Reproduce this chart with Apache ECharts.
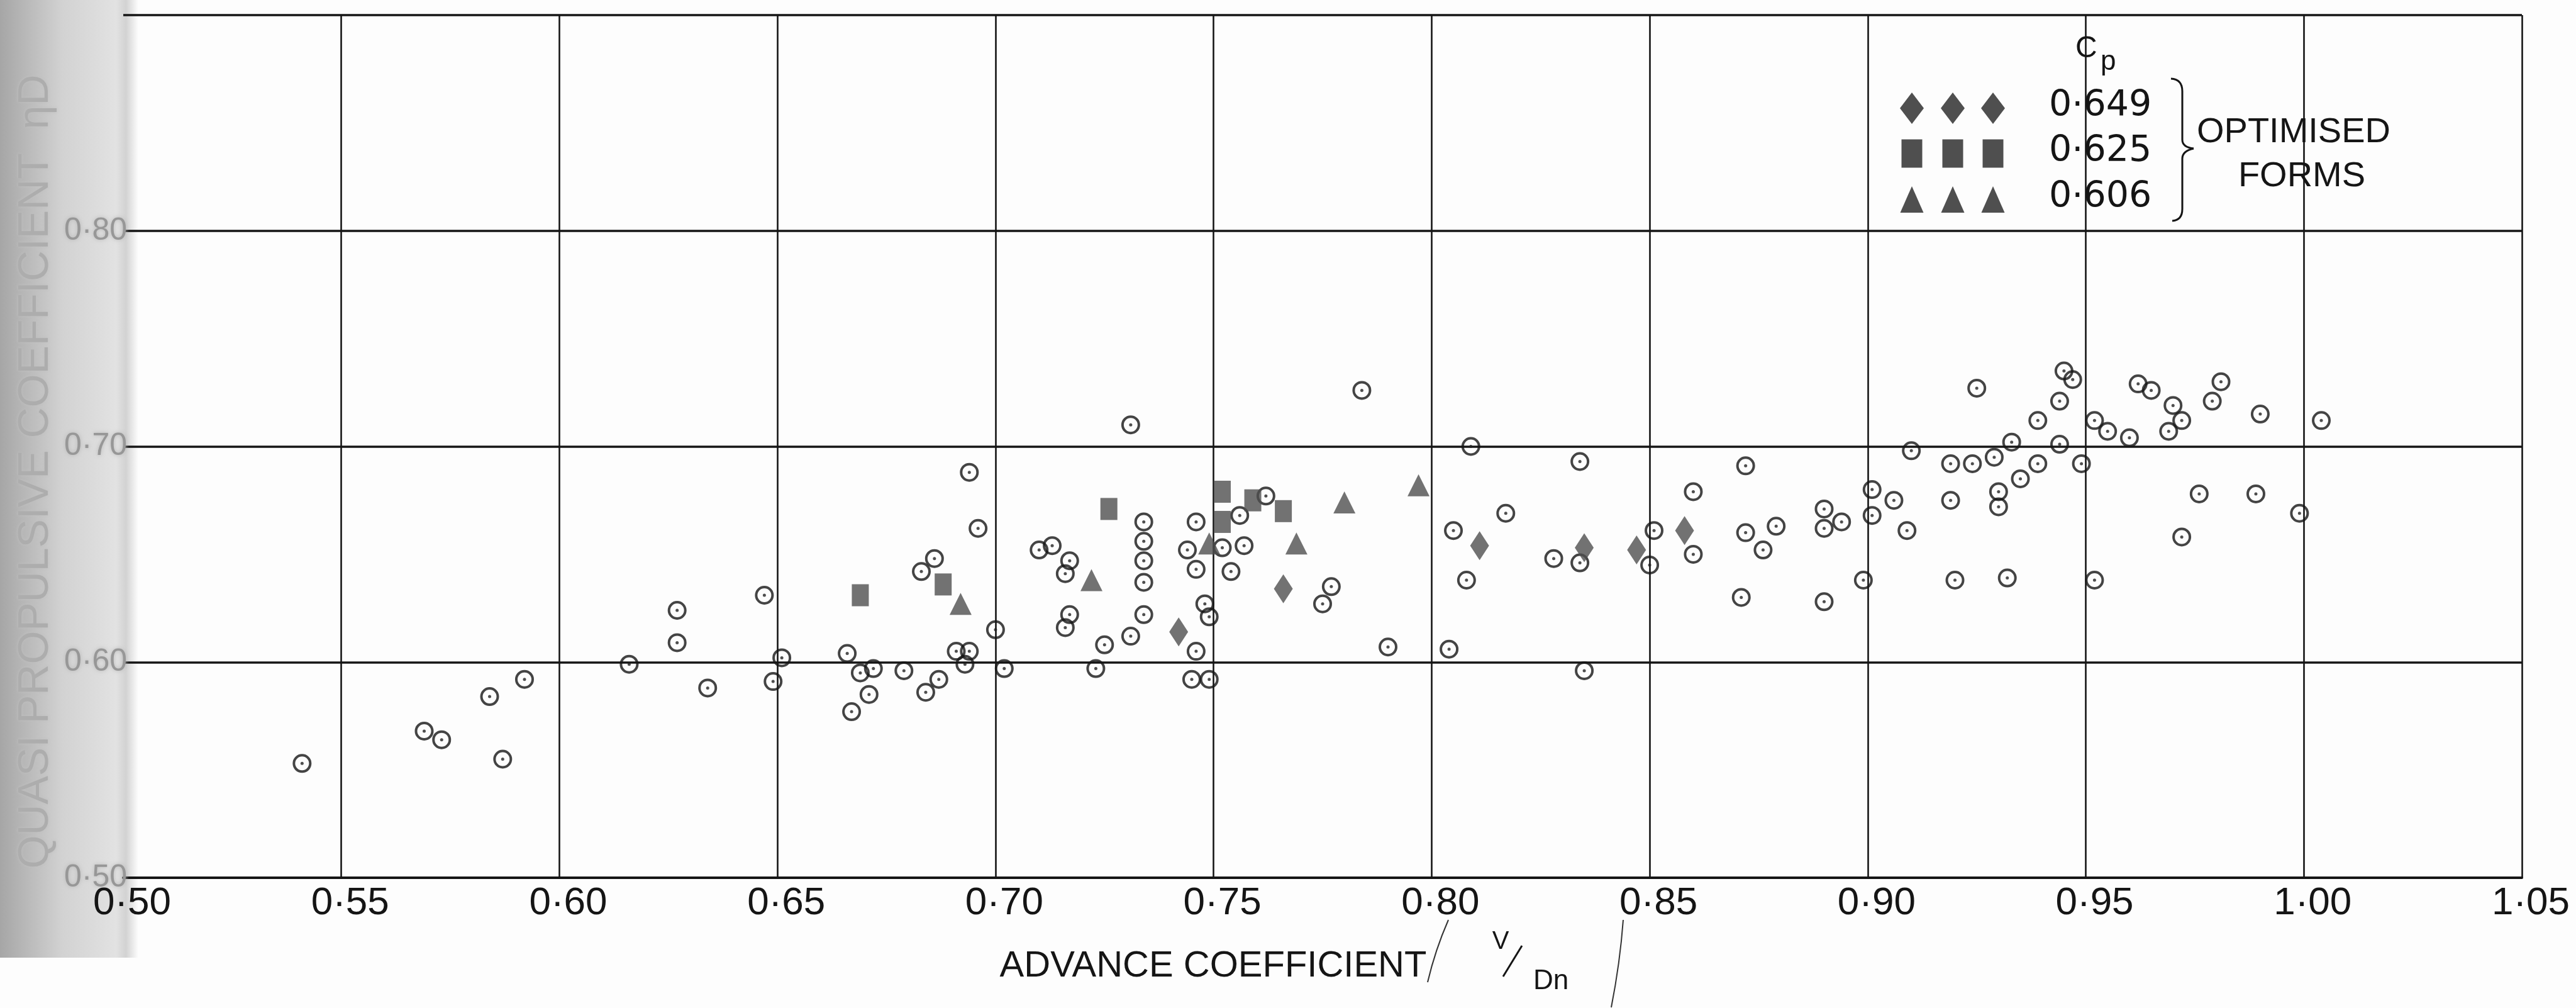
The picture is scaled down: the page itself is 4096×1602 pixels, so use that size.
<!DOCTYPE html>
<html><head><meta charset="utf-8">
<script src="https://cdn.jsdelivr.net/npm/echarts/dist/echarts.min.js"></script>
<style>html,body{margin:0;padding:0;background:#fff}#c{width:4096px;height:1602px}</style>
</head><body><div id="c"></div><script>
// ---- data (advance coefficient V/Dn, quasi propulsive coefficient) ----
const circles = [
 [0.541,0.553],[0.569,0.568],[0.573,0.564],[0.584,0.584],[0.592,0.592],[0.587,0.555],[0.616,0.599],
 [0.627,0.624],[0.627,0.609],[0.634,0.588],[0.647,0.631],[0.651,0.602],[0.649,0.591],[0.666,0.604],
 [0.669,0.595],[0.672,0.597],[0.671,0.585],[0.667,0.577],
 [0.731,0.710],[0.784,0.726],[0.809,0.700],[0.694,0.688],[0.696,0.662],[0.686,0.648],[0.683,0.642],
 [0.700,0.615],[0.691,0.605],[0.694,0.605],[0.693,0.599],[0.679,0.596],[0.687,0.592],[0.684,0.586],
 [0.702,0.597],[0.710,0.652],[0.713,0.654],[0.717,0.647],[0.716,0.641],[0.717,0.622],[0.716,0.616],
 [0.723,0.597],[0.725,0.608],[0.731,0.612],[0.734,0.665],[0.734,0.656],[0.734,0.647],[0.734,0.637],
 [0.734,0.622],[0.746,0.665],[0.744,0.652],[0.746,0.643],[0.748,0.627],[0.749,0.621],[0.746,0.605],
 [0.745,0.592],[0.749,0.592],[0.752,0.653],[0.756,0.668],[0.757,0.654],[0.762,0.677],[0.754,0.642],
 [0.777,0.635],[0.775,0.627],[0.790,0.607],[0.804,0.606],[0.805,0.661],[0.808,0.638],
 [0.834,0.693],[0.817,0.669],[0.828,0.648],[0.834,0.646],[0.835,0.596],[0.851,0.661],[0.850,0.645],
 [0.860,0.679],[0.860,0.650],[0.872,0.691],[0.872,0.660],[0.876,0.652],[0.871,0.630],[0.879,0.663],
 [0.890,0.671],[0.890,0.662],[0.894,0.665],[0.890,0.628],[0.899,0.638],[0.901,0.680],[0.901,0.668],
 [0.906,0.675],[0.909,0.661],[0.910,0.698],[0.925,0.727],[0.919,0.692],[0.924,0.692],[0.929,0.695],
 [0.933,0.702],[0.939,0.712],[0.939,0.692],[0.935,0.685],[0.930,0.679],[0.930,0.672],[0.919,0.675],
 [0.920,0.638],[0.932,0.639],
 [0.945,0.735],[0.947,0.731],[0.944,0.721],[0.944,0.701],[0.949,0.692],[0.952,0.712],[0.955,0.707],
 [0.960,0.704],[0.962,0.729],[0.965,0.726],[0.970,0.719],[0.972,0.712],[0.969,0.707],[0.981,0.730],
 [0.979,0.721],[0.990,0.715],[1.004,0.712],[0.976,0.678],[0.989,0.678],[0.999,0.669],[0.972,0.658],
 [0.952,0.638]
];
const diamonds649 = [[0.742,0.614],[0.766,0.634],[0.811,0.654],[0.835,0.653],[0.847,0.652],[0.858,0.661]];
const squares625  = [[0.669,0.631],[0.688,0.636],[0.726,0.671],[0.752,0.679],[0.752,0.665],[0.759,0.675],[0.766,0.670]];
const triangles606 = [[0.692,0.627],[0.722,0.638],[0.749,0.655],[0.769,0.655],[0.780,0.674],[0.797,0.682]];
const xTickLabels = ['0·50','0·55','0·60','0·65','0·70','0·75','0·80','0·85','0·90','0·95','1·00','1·05'];
const yTickLabels = ['0·50','0·60','0·70','0·80','0·90'];
const legendLabels = ['0·649','0·625','0·606'];
const legendTitle = 'OPTIMISED';
const legendTitle2 = 'FORMS';

const FONT = "'Liberation Sans Narrow','Liberation Sans',Arial,sans-serif";
const FONT2 = "'Liberation Sans',Arial,sans-serif";
const LFONT = "'DejaVu Sans',sans-serif";
const INK = '#151515';
const FILL = '#4f4f4f';

const chart = echarts.init(document.getElementById('c'), null, {renderer:'canvas'});

const legendRows = [172, 244, 317];
const legendXs = [3040, 3105, 3169];
const g = [];
g.push({type:'rect', z:-100, silent:true, shape:{x:0,y:0,width:220,height:1522},
  style:{fill:{type:'linear',x:0,y:0,x2:1,y2:0,colorStops:[
    {offset:0,color:'#a6a6a6'},{offset:0.45,color:'#d2d2d2'},{offset:0.84,color:'#e2e2e2'},
    {offset:0.91,color:'#d2d2d2'},{offset:1,color:'#fdfdfd'}]}}});
legendXs.forEach(cx => {
  let cy = legendRows[0];
  g.push({type:'polygon', z:50, shape:{points:[[cx,cy-25],[cx+19,cy],[cx,cy+25],[cx-19,cy]]}, style:{fill:FILL}});
  cy = legendRows[1];
  g.push({type:'rect', z:50, shape:{x:cx-16.5,y:cy-22.5,width:33,height:45}, style:{fill:FILL}});
  cy = legendRows[2];
  g.push({type:'polygon', z:50, shape:{points:[[cx,cy-21],[cx+18.5,cy+21],[cx-18.5,cy+21]]}, style:{fill:FILL}});
});
legendLabels.forEach((t,i) => {
  g.push({type:'text', z:50, x:3258, y:legendRows[i]-3, style:{text:t, font:'57px '+LFONT, fill:INK, align:'left', verticalAlign:'middle'}});
});
g.push({type:'text', z:50, x:3300, y:78, style:{text:'C', font:'48px '+FONT2, fill:INK, verticalAlign:'middle', align:'left'}});
g.push({type:'text', z:50, x:3340, y:99, style:{text:'p', font:'44px '+FONT2, fill:INK, verticalAlign:'middle', align:'left'}});
const brace = [
  {x1:3452,y1:125,x2:3470,y2:145,cpx1:3470,cpy1:126},
  {x1:3470,y1:222,x2:3488,y2:236,cpx1:3470,cpy1:234},
  {x1:3488,y1:236,x2:3470,y2:252,cpx1:3470,cpy1:240},
  {x1:3470,y1:332,x2:3454,y2:351,cpx1:3470,cpy1:350}
];
brace.forEach(s => g.push({type:'bezierCurve', z:50, shape:s, style:{stroke:INK, lineWidth:3, fill:null}}));
g.push({type:'line', z:50, shape:{x1:3470,y1:145,x2:3470,y2:222}, style:{stroke:INK, lineWidth:3}});
g.push({type:'line', z:50, shape:{x1:3470,y1:252,x2:3470,y2:332}, style:{stroke:INK, lineWidth:3}});
g.push({type:'text', z:50, x:3647, y:211, style:{text:legendTitle, font:'56px '+FONT2, fill:INK, align:'center', verticalAlign:'middle'}});
g.push({type:'text', z:50, x:3660, y:281, style:{text:legendTitle2, font:'56px '+FONT2, fill:INK, align:'center', verticalAlign:'middle'}});
// V/Dn symbol beside the axis title
g.push({type:'text', z:50, x:2386, y:1497, style:{text:'V', font:'40px '+FONT2, fill:INK, align:'center', verticalAlign:'middle'}});
g.push({type:'line', z:50, shape:{x1:2420,y1:1503,x2:2390,y2:1552}, style:{stroke:INK, lineWidth:3}});
g.push({type:'text', z:50, x:2466, y:1560, style:{text:'Dn', font:'44px '+FONT2, fill:INK, align:'center', verticalAlign:'middle'}});
g.push({type:'bezierCurve', z:50, shape:{x1:2303,y1:1462,x2:2270,y2:1561,cpx1:2282,cpy1:1510}, style:{stroke:'#333', lineWidth:2, fill:null}});
g.push({type:'bezierCurve', z:50, shape:{x1:2581,y1:1462,x2:2562,y2:1601,cpx1:2576,cpy1:1530}, style:{stroke:'#333', lineWidth:2, fill:null}});

const option = {
  backgroundColor:'#fdfdfd',
  animation:false,
  grid:{left:196, right:86, top:24, bottom:207, containLabel:false},
  xAxis:{
    type:'value', min:0.5, max:1.05, interval:0.05,
    name:'ADVANCE COEFFICIENT', nameLocation:'middle', nameGap:112,
    nameTextStyle:{fontFamily:FONT2, fontSize:58, color:INK, padding:[0,348,0,0]},
    axisLine:{show:true, onZero:false, lineStyle:{color:INK, width:4}},
    axisTick:{show:false},
    axisLabel:{margin:10, fontSize:62, fontFamily:FONT, color:INK, padding:[0,0,0,28],
      formatter:v => xTickLabels[Math.round((v-0.5)/0.05)]},
    splitLine:{show:true, showMinLine:false, lineStyle:{color:INK, width:2.6}}
  },
  yAxis:{
    type:'value', min:0.5, max:0.9, interval:0.1,
    name:'QUASI PROPULSIVE COEFFICIENT  ηD', nameLocation:'middle', nameGap:94, nameRotate:90,
    nameTextStyle:{fontFamily:FONT2, fontSize:68, color:'#adadad', padding:[0,80,0,0],
      textShadowColor:'#c0c0c0', textShadowBlur:5},
    axisLine:{show:false}, axisTick:{show:false},
    axisLabel:{margin:-6, fontSize:50, fontFamily:FONT, color:'#979797', showMaxLabel:false,
      textShadowColor:'#b5b5b5', textShadowBlur:6,
      formatter:v => yTickLabels[Math.round((v-0.5)/0.1)]},
    splitLine:{show:true, lineStyle:{color:INK, width:3.6}}
  },
  graphic:{elements:g},
  series:[
    {name:'ring', type:'scatter', data:circles, symbol:'circle', symbolSize:26, silent:true, z:3,
      itemStyle:{color:'rgba(0,0,0,0)', borderColor:INK, borderWidth:4}},
    {name:'dot', type:'scatter', data:circles, symbol:'circle', symbolSize:5, silent:true, z:4,
      itemStyle:{color:'#222'}},
    {name:'Cp 0.649', type:'scatter', data:diamonds649, symbol:'diamond', symbolSize:[30,46], silent:true, z:5,
      itemStyle:{color:FILL}},
    {name:'Cp 0.625', type:'scatter', data:squares625, symbol:'rect', symbolSize:[27,35], silent:true, z:5,
      itemStyle:{color:FILL}},
    {name:'Cp 0.606', type:'scatter', data:triangles606, symbol:'triangle', symbolSize:[35,35], silent:true, z:5,
      itemStyle:{color:FILL}}
  ]
};
chart.setOption(option);
</script></body></html>
